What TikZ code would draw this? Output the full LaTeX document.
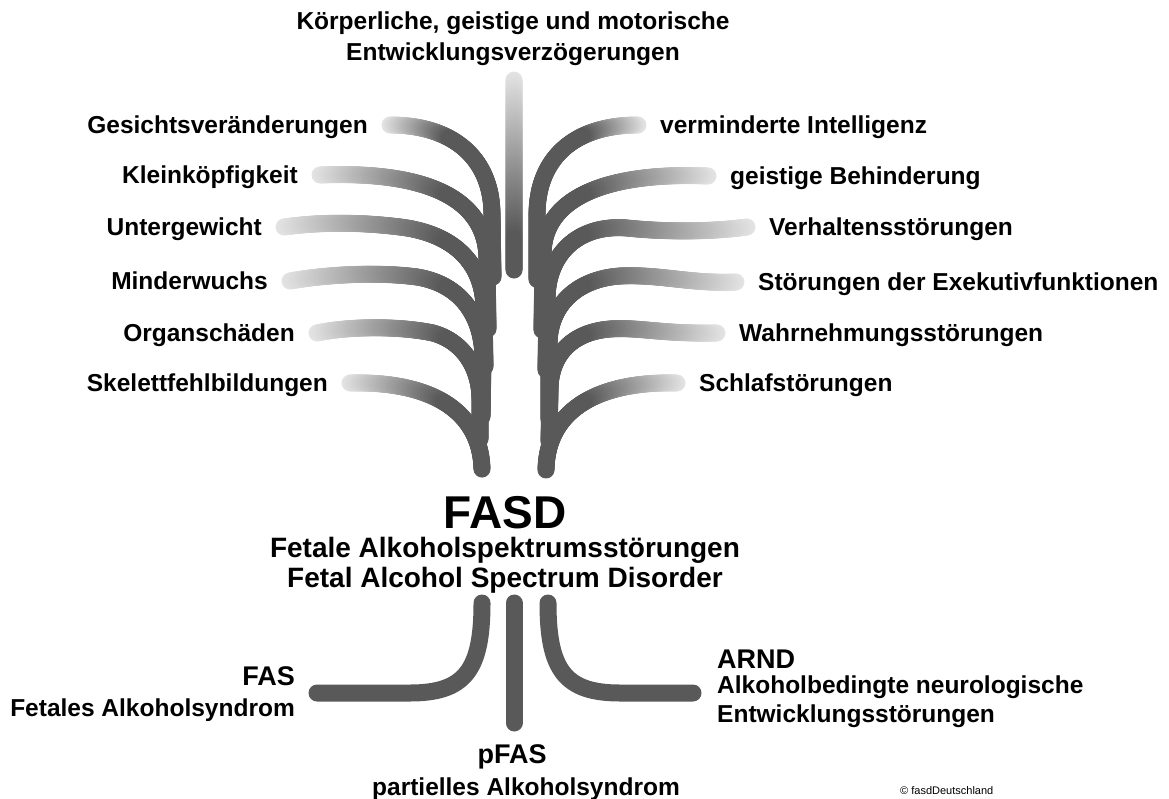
\documentclass[tikz,border=0pt]{standalone}
\usepackage{fontspec}
\setmainfont{Liberation Sans}
\usetikzlibrary{positioning,decorations.markings}

\definecolor{tubedark}{RGB}{89,89,89}
\definecolor{tubelight}{RGB}{228,228,228}

\tikzset{
  lbl/.style={font=\fontsize{24.5}{29}\selectfont\bfseries, inner sep=0pt,
    text height=17.5pt, text depth=0pt},
  title/.style={lbl, font=\fontsize{27}{32}\selectfont\bfseries, text height=19.3pt},
  bar/.style={draw=tubedark, line width=17pt, line cap=round},
  % shaded tube: light at its start, fully dark after #1 pt of path
  tube/.style={postaction={decorate}, decoration={markings,
    mark=between positions 0 and 1 step 1pt with {
      \pgfmathsetmacro{\tubepct}{100*min(1,\pgfkeysvalueof{/pgf/decoration/mark info/distance from start}/#1)}
      \fill[tubedark!\tubepct!tubelight] (0,0) circle[radius=8.5pt];
    }}},
}

\begin{document}
\begin{tikzpicture}[x=1pt,y=-1pt]
\useasboundingbox (0,0) rectangle (1169,798);

% ---------------- top ----------------
\node[lbl] (topa) at (513,21) {Körperliche, geistige und motorische};
\node[lbl] (topb) at (513,52) {Entwicklungsverzögerungen};
\path[tube=160] (514,80) -- (514,270);

% ---------------- left branches ----------------
\node[lbl, anchor=east] (gesicht) at (368,125) {Gesichtsveränderungen};
\node[lbl, anchor=east] (klein)   at (298,175) {Kleinköpfigkeit};
\node[lbl, anchor=east] (unter)   at (262,227) {Untergewicht};
\node[lbl, anchor=east] (minder)  at (268,281) {Minderwuchs};
\node[lbl, anchor=east] (organ)   at (295,333) {Organschäden};
\node[lbl, anchor=east] (skelett) at (328,383) {Skelettfehlbildungen};

\path[tube=62] ([xshift=22pt]gesicht.east) .. controls (455,125) and (492,160) .. (492,215) -- (493,277);
\path[tube=130] ([xshift=22pt]klein.east) .. controls (420,171) and (487,195) .. (487,260) -- (488,329);
\path[tube=165] ([xshift=22pt]unter.east) .. controls (320,222) and (360,222) .. (400,227)
  .. controls (450,233) and (484,260) .. (484,310) -- (485,367);
\path[tube=160] ([xshift=22pt]minder.east) .. controls (330,274) and (380,272) .. (417,277)
  .. controls (460,284) and (483,315) .. (483,360) -- (482,417);
\path[tube=133] ([xshift=22pt]organ.east) .. controls (350,326) and (400,326) .. (433,333)
  .. controls (465,342) and (480,370) .. (480,400) -- (480,440);
\path[tube=98] ([xshift=22pt]skelett.east) .. controls (430,381) and (481,410) .. (482,470);

% ---------------- right branches ----------------
\node[lbl, anchor=west] (vermind) at (660,125) {verminderte Intelligenz};
\node[lbl, anchor=west] (geistig) at (730,176) {geistige Behinderung};
\node[lbl, anchor=west] (verhalt) at (769,227) {Verhaltensstörungen};
\node[lbl, anchor=west] (exek)    at (758,282) {Störungen der Exekutivfunktionen};
\node[lbl, anchor=west] (wahrn)   at (739,333) {Wahrnehmungsstörungen};
\node[lbl, anchor=west] (schlaf)  at (699,383) {Schlafstörungen};

\path[tube=58] ([xshift=-22pt]vermind.west) .. controls (572,125) and (537,160) .. (537,215) -- (537,280);
\path[tube=128] ([xshift=-22pt]geistig.west) .. controls (612,172) and (543,195) .. (543,255) -- (542,330);
\path[tube=167] ([xshift=-22pt]verhalt.west) .. controls (710,232) and (665,232) .. (627,228)
  .. controls (577,224) and (547,255) .. (547,300) -- (546,370);
\path[tube=156] ([xshift=-22pt]exek.west) .. controls (690,284) and (660,274) .. (620,276)
  .. controls (577,279) and (549,305) .. (549,345) -- (549,420);
\path[tube=137] ([xshift=-22pt]wahrn.west) .. controls (660,334) and (640,327) .. (610,329)
  .. controls (572,332) and (550,355) .. (550,390) -- (549,442);
\path[tube=97] ([xshift=-22pt]schlaf.west) .. controls (598,381) and (547,410) .. (546,470);

% ---------------- centre ----------------
\node[font=\fontsize{46}{50}\selectfont\bfseries, inner sep=0pt, anchor=base] (fasd) at (505,528) {FASD};
\node[lbl, font=\fontsize{28}{32}\selectfont\bfseries, anchor=base] (fasdde) at (505,557) {Fetale Alkoholspektrumsstörungen};
\node[lbl, font=\fontsize{28}{32}\selectfont\bfseries, anchor=base] (fasden) at (505,587) {Fetal Alcohol Spectrum Disorder};

% ---------------- lower branches ----------------
\node[title, anchor=east] (fas)  at (295,676) {FAS};
\node[lbl, anchor=east] (fasde)  at (295,708) {Fetales Alkoholsyndrom};
\node[title] (pfas) at (512,754) {pFAS};
\node[lbl] (pfasde) at (526,787) {partielles Alkoholsyndrom};
\node[title, anchor=west] (arnd) at (717,659) {ARND};
\node[lbl, anchor=west] (arndde) at (717,685) {Alkoholbedingte neurologische};
\node[lbl, anchor=west] (arndde2) at (717,714) {Entwicklungsstörungen};

\coordinate (fasend)  at (317,693);
\coordinate (pfasend) at (514,723);
\coordinate (arndend) at (693,693);
\draw[bar] (482,603) .. controls (482,670) and (465,693) .. (410,693) -- (fasend);
\draw[bar] (514,603) -- (pfasend);
\draw[bar] (548,603) .. controls (548,670) and (565,693) .. (620,693) -- (arndend);

\node[font=\fontsize{11}{13}\selectfont, inner sep=0pt, anchor=west] (copy) at (900,791) {© fasdDeutschland};

\end{tikzpicture}
\end{document}
